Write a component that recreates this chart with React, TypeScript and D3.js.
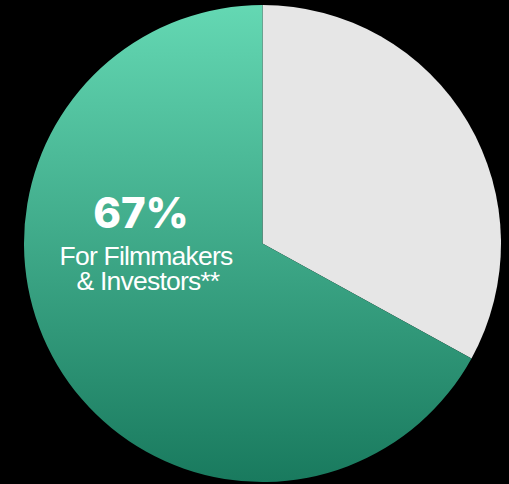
import React from "react";
import * as d3 from "d3";

const categories = ["Other", "For Filmmakers & Investors**"];
const values = [33, 67];
const labelLines = ["For Filmmakers", "& Investors**"];
const percentLabel = "67%";

export default function App() {
  const W = 509, H = 484;
  const cx = 262.5, cy = 243.5, r = 238.5;
  const pie = d3.pie<number>().sort(null).value((d) => d);
  const arcs = pie(values);
  const arc = d3.arc<d3.PieArcDatum<number>>().innerRadius(0).outerRadius(r);
  const fills = ["#e6e6e6", "url(#greenGrad)"];
  const lineX = [146, 148];
  return (
    <svg width={W} height={H} style={{ position: "absolute", left: 0, top: 0, background: "#000" }}>
      <defs>
        <linearGradient id="greenGrad" gradientUnits="userSpaceOnUse" x1="0" y1={-r} x2="0" y2={r}>
          <stop offset="0%" stopColor="#64d8b3" />
          <stop offset="100%" stopColor="#197a5e" />
        </linearGradient>
      </defs>
      <rect width={W} height={H} fill="#000" />
      <g transform={`translate(${cx},${cy})`}>
        {arcs.map((a, i) => (
          <path key={categories[i]} d={arc(a) || ""} fill={fills[i]} />
        ))}
      </g>
      <text x={141} y={228} textAnchor="middle" fill="#fff" fontFamily="Inter, sans-serif" fontWeight={800} fontSize={42}>
        {percentLabel}
      </text>
      {labelLines.map((t, i) => (
        <text key={t} x={lineX[i]} y={265 + i * 25} textAnchor="middle" fill="#fff" fontFamily="'Liberation Sans', Arial, sans-serif" fontSize={26.5} letterSpacing={-0.8}>
          {t}
        </text>
      ))}
    </svg>
  );
}
